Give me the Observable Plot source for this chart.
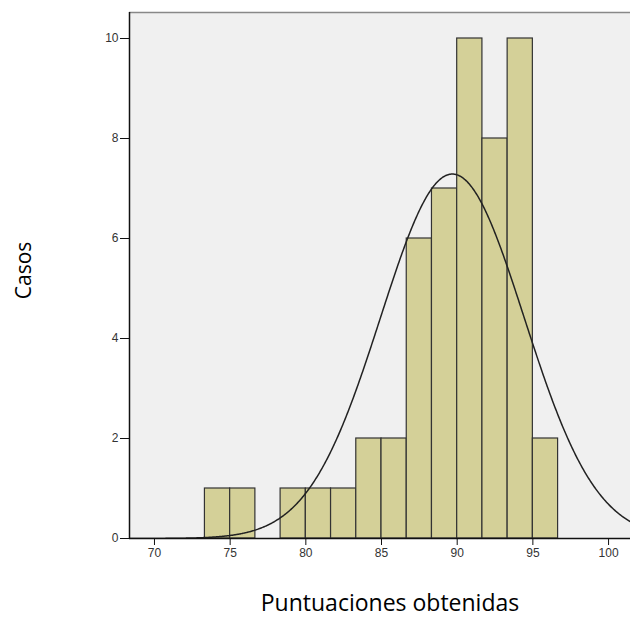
<!DOCTYPE html>
<html>
<head>
<meta charset="utf-8">
<script src="https://cdn.jsdelivr.net/npm/d3@7"></script>
<script src="https://cdn.jsdelivr.net/npm/@observablehq/plot@0.6"></script>
<style>
  html, body { margin: 0; padding: 0; background: #fff; }
  #chart svg { display: block; }
</style>
</head>
<body>
<div id="chart"></div>
<script>
// Histogram bins (lower edge) and counts
const binWidth = 5 / 3;
const binStarts = [73.333, 75, 76.667, 78.333, 80, 81.667, 83.333, 85, 86.667, 88.333, 90, 91.667, 93.333, 95];
const counts    = [1, 1, 0, 1, 1, 1, 2, 2, 6, 7, 10, 8, 10, 2];
const xTicks = [70, 75, 80, 85, 90, 95, 100];
const yTicks = [0, 2, 4, 6, 8, 10];
const xLabel = "Puntuaciones obtenidas";
const yLabel = "Casos";

const bins = binStarts.map((s, i) => ({x1: s, x2: s + binWidth, count: counts[i]})).filter(d => d.count > 0);

// Fitted normal curve derived from the binned data (mean, sd, N)
const N = d3.sum(counts);
const mids = binStarts.map(s => s + binWidth / 2);
const mean = d3.sum(mids, (m, i) => m * counts[i]) / N;
const sd = Math.sqrt(d3.sum(mids, (m, i) => counts[i] * (m - mean) ** 2) / (N - 1));
const xDomain = [68.35, 101.45];
const curve = d3.range(xDomain[0], xDomain[1] + 0.05, 0.05).map(x => ({
  x, y: N * binWidth / (sd * Math.sqrt(2 * Math.PI)) * Math.exp(-0.5 * ((x - mean) / sd) ** 2)
}));

const chart = Plot.plot({
  width: 630,
  height: 623,
  marginLeft: 129,
  marginRight: 0,
  marginTop: 12,
  marginBottom: 85,
  style: {fontFamily: "Liberation Sans, Arial, sans-serif", fontSize: "12px", color: "#222", background: "#fff"},
  x: {domain: xDomain},
  y: {domain: [0, 10.52]},
  marks: [
    Plot.frame({fill: "#f0f0f0", stroke: null}),
    Plot.ruleY([10.52], {stroke: "#888", strokeWidth: 1.5}),
    Plot.rectY(bins, {x1: "x1", x2: "x2", y: "count", fill: "#d4d098", stroke: "#333", strokeWidth: 1.2}),
    Plot.line(curve, {x: "x", y: "y", stroke: "#222", strokeWidth: 1.5, clip: true}),
    Plot.ruleX([xDomain[0]], {stroke: "#111", strokeWidth: 1.5}),
    Plot.ruleY([0], {stroke: "#111", strokeWidth: 1.5}),
    Plot.axisX({ticks: xTicks, tickSize: 7, tickPadding: 3, label: null, stroke: "#111", fill: "#333"}),
    Plot.axisY({ticks: yTicks, tickSize: 9, tickPadding: 2, label: null, stroke: "#111", fill: "#333"}),
    Plot.text([xLabel], {frameAnchor: "bottom", dx: 10, dy: 72, textAnchor: "middle", text: d => d, fontFamily: "Open Sans", fontSize: 23, fill: "#000"}),
    Plot.text([yLabel], {frameAnchor: "left", dx: -105, dy: -5, textAnchor: "middle", rotate: -90, text: d => d, fontFamily: "Open Sans", fontSize: 21, fill: "#000"})
  ]
});
document.getElementById("chart").append(chart);
</script>
</body>
</html>
